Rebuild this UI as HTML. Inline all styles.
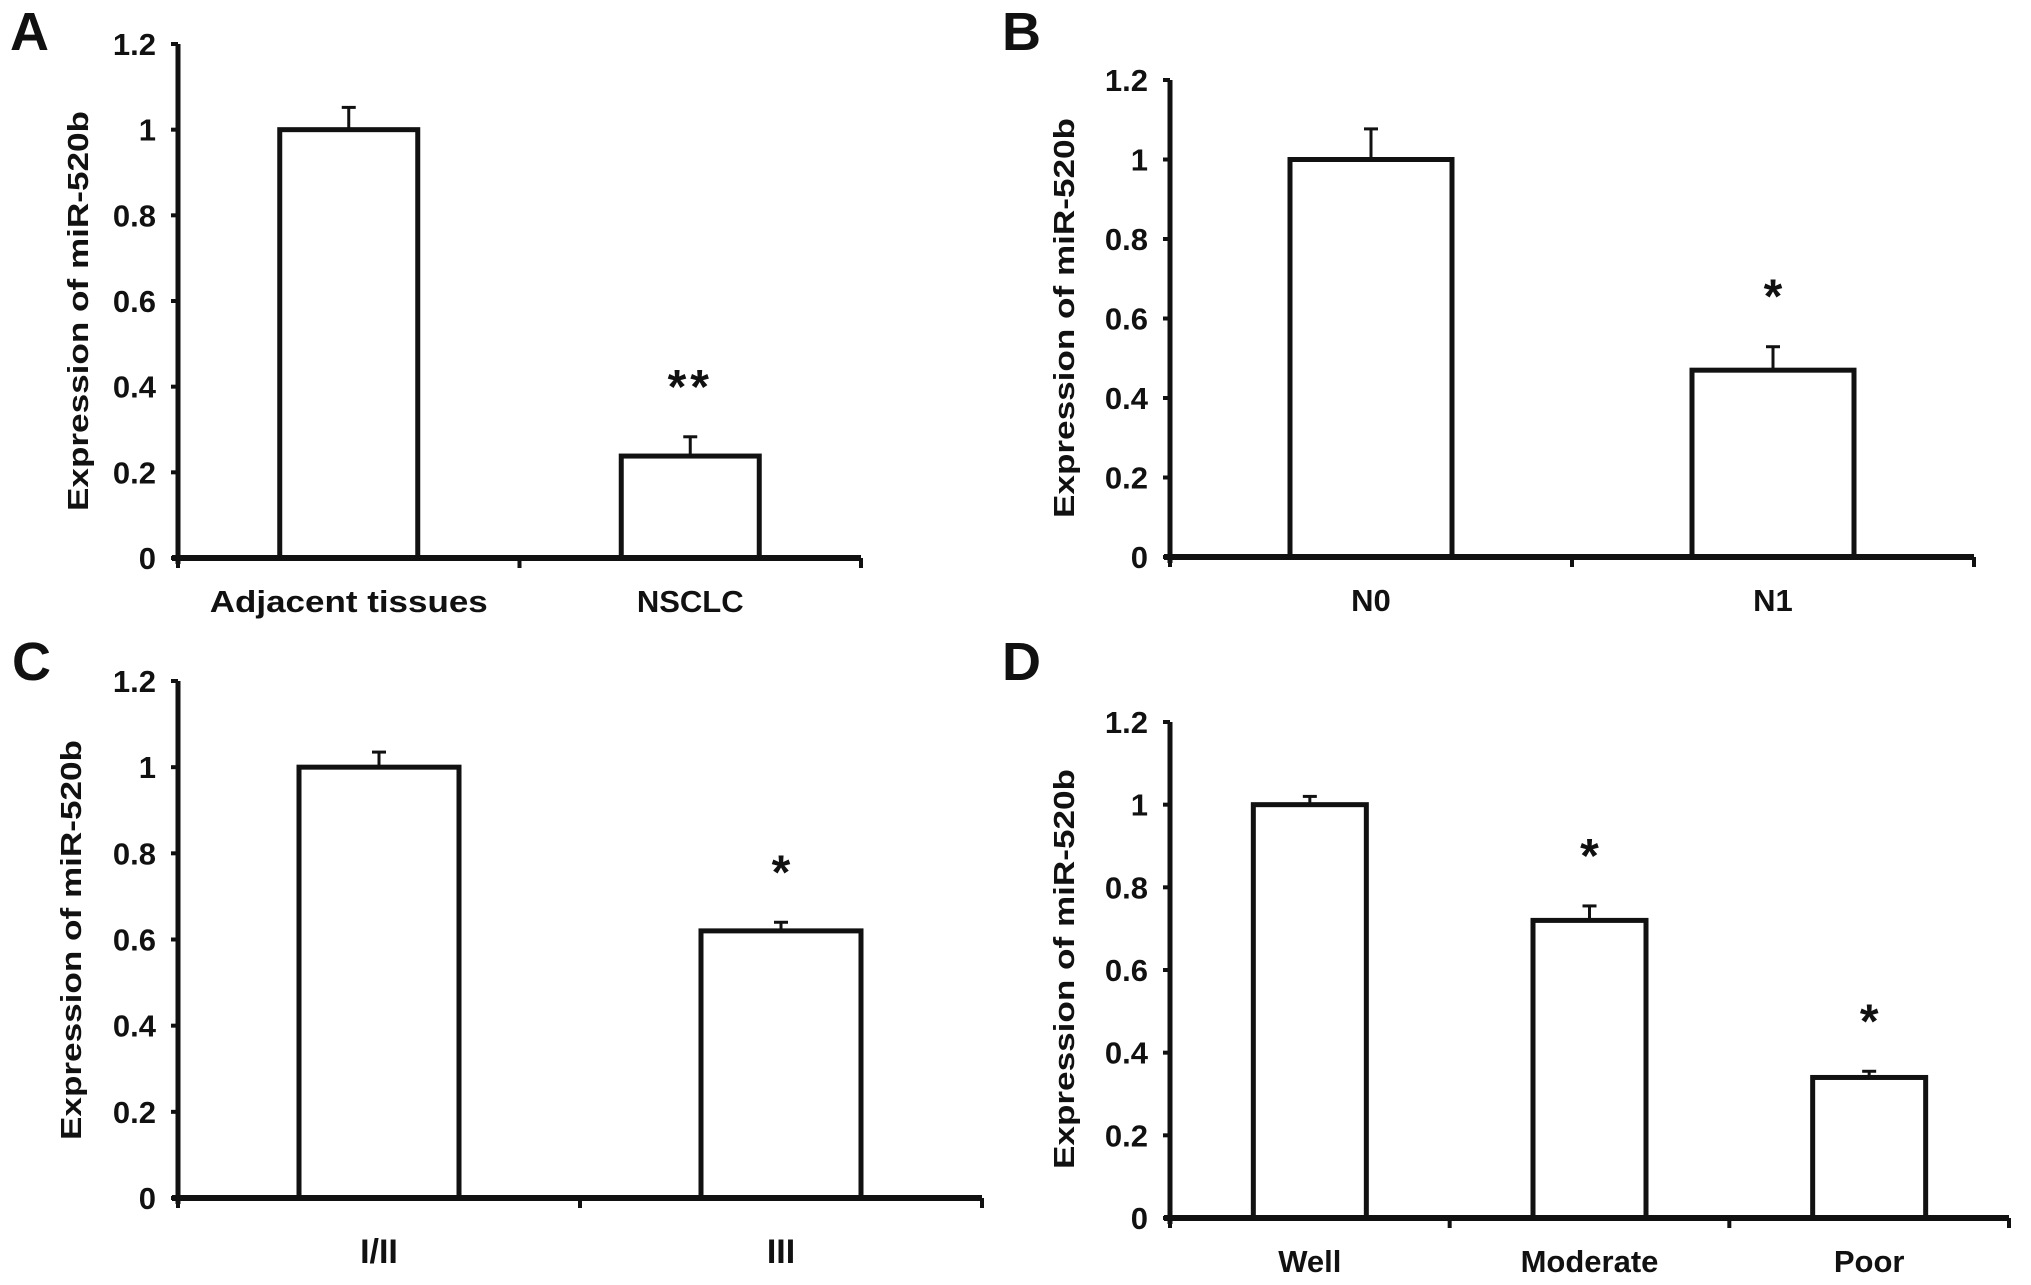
<!DOCTYPE html>
<html><head><meta charset="utf-8"><style>
html,body{margin:0;padding:0;background:#fff;}
svg{display:block;}
text{font-family:"Liberation Sans",Arial,sans-serif;font-weight:bold;fill:#111;}
</style></head><body>
<svg id="fig" width="2031" height="1285" viewBox="0 0 2031 1285" xmlns="http://www.w3.org/2000/svg"></svg>
<script>
// Panel A
const catsA = ["Adjacent tissues", "NSCLC"];
const valsA = [1.0, 0.238];
const errA = [1.052, 0.283];
const sigA = ["", "**"];
// Panel B
const catsB = ["N0", "N1"];
const valsB = [1.0, 0.47];
const errB = [1.077, 0.529];
const sigB = ["", "*"];
// Panel C
const catsC = ["I/II", "III"];
const valsC = [1.0, 0.62];
const errC = [1.035, 0.64];
const sigC = ["", "*"];
// Panel D
const catsD = ["Well", "Moderate", "Poor"];
const valsD = [1.0, 0.72, 0.34];
const errD = [1.02, 0.755, 0.355];
const sigD = ["", "*", "*"];
const yTicks = [0, 0.2, 0.4, 0.6, 0.8, 1, 1.2];
const yTickLabels = ["0", "0.2", "0.4", "0.6", "0.8", "1", "1.2"];

const NS = "http://www.w3.org/2000/svg";
const svg = document.getElementById("fig");
function mk(tag, attrs, parent) {
  const e = document.createElementNS(NS, tag);
  for (const k in attrs) e.setAttribute(k, attrs[k]);
  (parent || svg).appendChild(e);
  return e;
}

function panel(id, letter, cfg, cats, vals, errs, sigs) {
  const g = mk("g", {});
  
  
  const y = v => cfg.y0 - (cfg.y0 - cfg.y12) * v / 1.2;
  const n = cats.length;
  const slot = (cfg.xEnd - cfg.x0) / n;
  const xc = i => cfg.x0 + slot * (i + 0.5);

  const lt = mk("text", {x: cfg.lx, y: cfg.ly, "font-size": 54}, g);
  lt.textContent = letter;
  
  

  for (let i = 0; i < n; i++) {
    const top = y(vals[i]);
    const et = y(errs[i]);
    const el = mk("line", {x1: xc(i), x2: xc(i), y1: top, y2: et, stroke: "#111", "stroke-width": 3}, g);
    
    
    const ec = mk("line", {x1: xc(i) - 7, x2: xc(i) + 7, y1: et, y2: et, stroke: "#111", "stroke-width": 3}, g);
    
    
    const r = mk("rect", {x: xc(i) - cfg.bw / 2, y: top, width: cfg.bw, height: cfg.y0 - top, fill: "#fff", stroke: "#111", "stroke-width": 5}, g);
    
    
    if (sigs[i]) {
      const s = mk("text", {x: xc(i), y: et - 34, "font-size": 48, "text-anchor": "middle"}, g);
      if (sigs[i].length > 1) s.setAttribute("letter-spacing", "4");
      s.textContent = sigs[i];
      
      
    }
    const c = mk("text", {x: xc(i), y: cfg.labY, "font-size": 31, "text-anchor": "middle"}, g);
    if (cfg.roman) { c.setAttribute("font-family", "Liberation Serif, serif"); c.setAttribute("font-size", 34); }
    if (cats[i].length > 10) { c.setAttribute("textLength", 278); c.setAttribute("lengthAdjust", "spacingAndGlyphs"); }
    c.textContent = cats[i];
    
    
  }
  const ya = mk("line", {x1: cfg.x0, x2: cfg.x0, y1: cfg.y12, y2: cfg.y0 + 6, stroke: "#111", "stroke-width": 5}, g);
  
  
  const xa = mk("line", {x1: cfg.x0 - 6, x2: cfg.xEnd, y1: cfg.y0, y2: cfg.y0, stroke: "#111", "stroke-width": 6}, g);
  
  
  for (let i = 0; i <= n; i++) {
    const tx = cfg.x0 + slot * i;
    const t = mk("line", {x1: tx, x2: tx, y1: cfg.y0, y2: cfg.y0 + 10, stroke: "#111", "stroke-width": 4}, g);
    
    
  }
  for (let i = 0; i < yTicks.length; i++) {
    const ty = y(yTicks[i]);
    const t = mk("line", {x1: cfg.x0 - 7, x2: cfg.x0, y1: ty, y2: ty, stroke: "#111", "stroke-width": 4}, g);
    
    
    const tl = mk("text", {x: cfg.x0 - 22, y: ty + 11, "font-size": 31, "text-anchor": "end"}, g);
    tl.textContent = yTickLabels[i];
    
    
  }
  const tt = mk("text", {x: 0, y: 0, "font-size": 29, "text-anchor": "middle", textLength: 400, lengthAdjust: "spacingAndGlyphs",
    transform: "translate(" + (cfg.tx + 10) + "," + cfg.ty + ") rotate(-90)"}, g);
  tt.textContent = "Expression of miR-520b";
  
  
}

panel("a", "A", {x0:178, xEnd:861, y0:558, y12:44, bw:138, labY:612, lx:10, ly:50, tx:78, ty:311}, catsA, valsA, errA, sigA);
panel("b", "B", {x0:1170, xEnd:1974, y0:557, y12:80, bw:162, labY:611, lx:1002, ly:50, tx:1064, ty:318}, catsB, valsB, errB, sigB);
panel("c", "C", {x0:178, xEnd:982, y0:1198, y12:681, bw:160, labY:1263, lx:12, ly:680, tx:71, ty:940, roman:true}, catsC, valsC, errC, sigC);
panel("d", "D", {x0:1170, xEnd:2009, y0:1218, y12:722, bw:113, labY:1272, lx:1002, ly:680, tx:1064, ty:969}, catsD, valsD, errD, sigD);
</script>
</body></html>
